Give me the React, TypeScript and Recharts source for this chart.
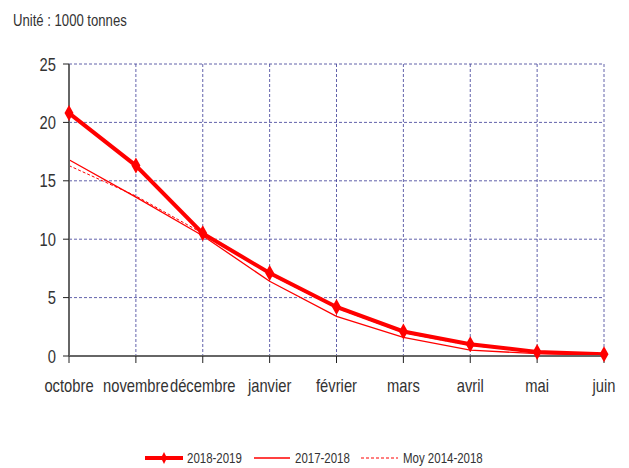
import React from "react";
import { LineChart, Line, XAxis, YAxis, CartesianGrid } from "recharts";

const months = ["octobre", "novembre", "décembre", "janvier", "février", "mars", "avril", "mai", "juin"];
const s2018_2019 = [20.8, 16.3, 10.5, 7.1, 4.2, 2.1, 1.0, 0.35, 0.15];
const s2017_2018 = [16.8, 13.6, 10.3, 6.4, 3.4, 1.6, 0.5, 0.2, 0.1];
const moy2014_2018 = [16.3, 13.7, 10.5, 7.0, 4.1, 2.0, 0.9, 0.35, 0.15];
const yTicks = [0, 5, 10, 15, 20, 25];

const data = months.map((m, i) => ({
  month: m,
  a: s2018_2019[i],
  b: s2017_2018[i],
  c: moy2014_2018[i],
}));

const FONT = "'Liberation Sans', Arial, sans-serif";
const RED = "#ff0000";
const TXT = "#333";
const SX = 0.82;

const Diamond = (props: any) => {
  const { cx, cy } = props;
  if (cx == null || cy == null) return null;
  return <path d={`M${cx},${cy - 8} L${cx + 4.5},${cy} L${cx},${cy + 8} L${cx - 4.5},${cy} Z`} fill={RED} stroke="none" />;
};

const XTick = (props: any) => {
  const { x, payload } = props;
  return (
    <g transform={`translate(${x},392) scale(${SX},1)`}>
      <text x={0} y={0} textAnchor="middle" fontSize={18} fill={TXT} fontFamily={FONT}>{payload.value}</text>
    </g>
  );
};

const YTick = (props: any) => {
  const { y, payload } = props;
  return (
    <g transform={`translate(56,${y + 6.5}) scale(${SX},1)`}>
      <text x={0} y={0} textAnchor="end" fontSize={18} fill={TXT} fontFamily={FONT}>{payload.value}</text>
    </g>
  );
};

const NText = ({ x, y, size, children }: any) => (
  <g transform={`translate(${x},${y}) scale(${SX},1)`}>
    <text x={0} y={0} fontSize={size} fill={TXT} fontFamily={FONT}>{children}</text>
  </g>
);

export default function App() {
  return (
    <div style={{ position: "absolute", left: 0, top: 0, width: 629, height: 468, background: "#fff" }}>
      <LineChart width={629} height={468} data={data} margin={{ top: 64, right: 25, bottom: 82, left: 0 }}>
        <CartesianGrid stroke="#3a3a96" strokeDasharray="3 2" strokeWidth={0.8} />
        <XAxis
          dataKey="month"
          interval={0}
          padding={{ left: 0, right: 0 }}
          axisLine={{ stroke: "#666", strokeWidth: 2 }}
          tickLine={{ stroke: "#222" }}
          tickSize={7}
          tick={<XTick />}
        />
        <YAxis
          domain={[0, 25]}
          ticks={yTicks}
          width={69}
          axisLine={{ stroke: "#666", strokeWidth: 2 }}
          tickLine={{ stroke: "#222" }}
          tickSize={6}
          tick={<YTick />}
        />
        <Line dataKey="c" stroke={RED} strokeWidth={1} strokeDasharray="3 2" dot={false} isAnimationActive={false} />
        <Line dataKey="b" stroke={RED} strokeWidth={1.3} dot={false} isAnimationActive={false} />
        <Line dataKey="a" stroke={RED} strokeWidth={4} dot={<Diamond />} isAnimationActive={false} />
      </LineChart>
      <svg style={{ position: "absolute", left: 0, top: 0 }} width={629} height={468} pointerEvents="none">
        <NText x={13} y={26} size={16}>Unité : 1000 tonnes</NText>
        <line x1={145} y1={458} x2={183} y2={458} stroke={RED} strokeWidth={4} />
        <path d="M164,452 L167,458 L164,464 L161,458 Z" fill={RED} />
        <NText x={187} y={463} size={14}>2018-2019</NText>
        <line x1={254} y1={458} x2={290} y2={458} stroke={RED} strokeWidth={1.3} />
        <NText x={295} y={463} size={14}>2017-2018</NText>
        <line x1={361} y1={458} x2={398} y2={458} stroke={RED} strokeWidth={1} strokeDasharray="3 2" />
        <NText x={403} y={463} size={14}>Moy 2014-2018</NText>
      </svg>
    </div>
  );
}
